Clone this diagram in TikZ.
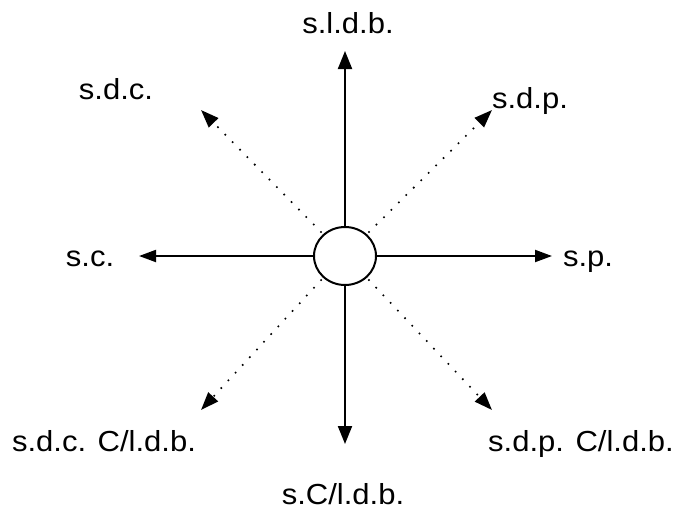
\documentclass[tikz,border=0pt]{standalone}
\usepackage{fontspec}
\setmainfont{Liberation Sans}[FakeStretch=1.07]
\usetikzlibrary{arrows.meta,shapes.geometric}
\begin{document}
\begin{tikzpicture}[x=1pt,y=-1pt,
  lbl/.style={inner sep=0pt,anchor=base,font=\fontsize{29}{34}\selectfont},
  varrow/.style={line width=2pt,-{Triangle[length=18pt,width=14pt]}},
  harrow/.style={line width=2pt,-{Triangle[length=17pt,width=12pt]}},
  dotarrow/.style={line width=2.3pt,dash pattern=on 0pt off 10.5pt,line cap=round,shorten <=3pt,-{Triangle[length=18pt,width=13pt]}},
  hub/.style={ellipse,draw,line width=2pt,minimum width=62pt,minimum height=58pt,inner sep=0pt}]
\useasboundingbox (0,0) rectangle (676,517);
\node[hub] (c) at (345,256) {};
\coordinate (tN) at (345,51);
\coordinate (tS) at (345,444);
\coordinate (tW) at (139,256);
\coordinate (tE) at (552,256);
\coordinate (tNW) at (201,110);
\coordinate (tNE) at (492,110);
\coordinate (tSW) at (201,410);
\coordinate (tSE) at (492,410);
\node[lbl] (lN) at (348,33) {s.l.d.b.};
\node[lbl] (lS) at (343,504) {s.C/l.d.b.};
\node[lbl] (lW) at (90,266) {s.c.};
\node[lbl] (lE) at (588,266) {s.p.};
\node[lbl] (lNW) at (116,99) {s.d.c.};
\node[lbl] (lNE) at (530,108) {s.d.p.};
\node[lbl] (lSW) at (104,451) {s.d.c. C/l.d.b.};
\node[lbl] (lSE) at (581,451) {s.d.p. C/l.d.b.};
\draw[varrow] (c.north) -- (tN);
\draw[varrow] (c.south) -- (tS);
\draw[harrow] (c.west) -- (tW);
\draw[harrow] (c.east) -- (tE);
\draw[dotarrow] (c.135) -- (tNW);
\draw[dotarrow] (c.45) -- (tNE);
\draw[dotarrow] (c.-135) -- (tSW);
\draw[dotarrow] (c.-45) -- (tSE);
\end{tikzpicture}
\end{document}
